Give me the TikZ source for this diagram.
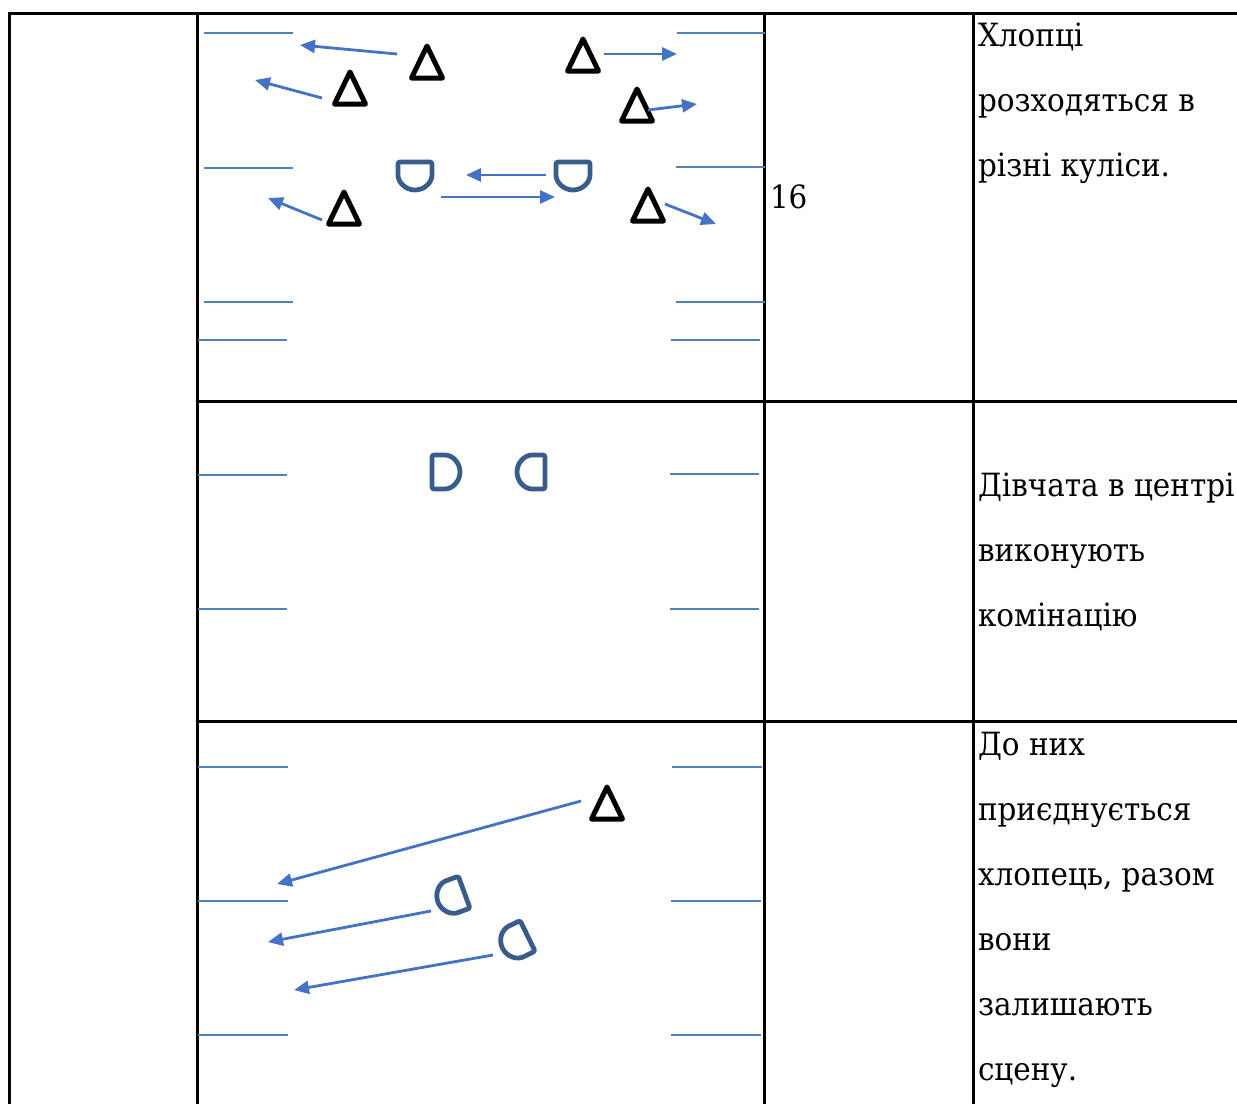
\documentclass[tikz,border=0pt]{standalone}
\usepackage{fontspec}
\newfontfamily\tablefont{DejaVu Serif}[FakeStretch=0.92]
\usetikzlibrary{arrows.meta}
\definecolor{wingBlue}{RGB}{79,129,189}
\definecolor{girlBlue}{RGB}{56,93,138}
\definecolor{moveBlue}{RGB}{68,114,196}

\begin{document}
\begin{tikzpicture}[x=1pt,y=-1pt,
  every node/.style={inner sep=0pt,outer sep=0pt},
  txt/.style={anchor=base west,font=\tablefont\fontsize{32}{43}\selectfont},
  grid/.style={line width=3pt,black},
  wing/.style={line width=2.8pt,wingBlue},
  boy/.style={line width=5pt,black,line join=round},
  girl/.style={line width=4.8pt,girlBlue,line join=round,rounded corners=2pt},
  move/.style={line width=2.8pt,moveBlue,-{Triangle[length=15pt,width=13pt]}}]

\useasboundingbox (0,0) rectangle (1237,1104);

% draw the table
\draw[grid] (9,1104) -- (9,13) -- (1237,13);
\foreach \x in {197,764,973}
\draw[grid] (\x,13) -- (\x,1104);
\foreach \y in {401,721}
\draw[grid] (197,\y) -- (1237,\y);

% draw the wings
\foreach \xa/\xb/\y in {204/293/33, 204/293/168, 204/293/302, 198/287/340,
                        677/765/33, 676/765/167, 676/765/302, 671/760/340,
                        198/287/475, 198/287/609, 670/759/474, 670/759/609,
                        198/288/767, 198/288/901, 198/288/1035,
                        672/762/767, 671/761/901, 671/761/1035}
\draw[wing] (\xa,\y) -- (\xb,\y);

% draw the boys
\foreach \x/\y in {427/62, 350/88, 344/208, 583/55, 637/105, 648/205, 607/803}
\draw[boy] (\x,\y) ++(0,-16) -- ++(15.5,32) -- ++(-31,0) -- cycle;

% draw the girls
\foreach \x/\y/\r in {415/176/-90, 573/176/-90, 446/472/0, 531/472/180, 451/897/200, 515/942/206}
\draw[girl,shift={(\x,\y)},rotate=\r] (-14,-17) -- (-3,-17) arc (-90:90:17) -- (-14,17) -- cycle;

% draw the moves
\foreach \sx/\sy/\ex/\ey [count=\i] in {397/54/300/45, 322/98/255/80, 322/220/268/198,
                                       604/54/677/54, 648/110/697/104, 665/204/716/224,
                                       546/175/466/175, 441/197/555/197,
                                       581/801/277/884, 431/911/268/942, 493/955/294/990}
{
  \coordinate (from\i) at (\sx,\sy);
  \coordinate (to\i) at (\ex,\ey);
  \draw[move] (from\i) -- (to\i);
}

% the texts
\node[txt] (count) at (770,208) {16};
\foreach \t [count=\i] in {Хлопці, розходяться в, різні куліси.}
\node[txt] (boysText\i) at (978,{46+65*(\i-1)}) {\t};
\foreach \t [count=\i] in {Дівчата в центрі, виконують, комінацію}
\node[txt] (girlsText\i) at (978,{496+65*(\i-1)}) {\t};
\foreach \t [count=\i] in {До них, приєднується, {хлопець, разом}, вони, залишають, сцену.}
\node[txt] (allText\i) at (978,{755+65*(\i-1)}) {\t};

\end{tikzpicture}
\end{document}
